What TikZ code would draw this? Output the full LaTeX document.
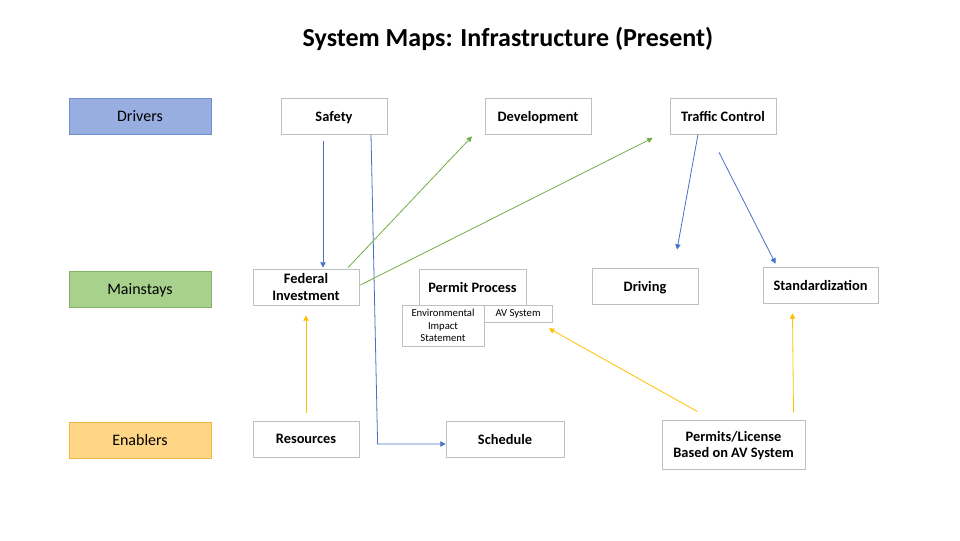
\documentclass[tikz,border=0pt]{standalone}
\usepackage{fontspec}
\setmainfont{Carlito}
\usetikzlibrary{calc,arrows.meta}
\definecolor{boxline}{HTML}{BFBFBF}
\definecolor{arrblue}{HTML}{4472C4}
\definecolor{arrgreen}{HTML}{70AD47}
\definecolor{arryellow}{HTML}{FFC000}
\definecolor{drvfill}{HTML}{98AEE0}
\definecolor{drvline}{HTML}{6F8FCF}
\definecolor{mnfill}{HTML}{A9D18E}
\definecolor{mnline}{HTML}{82B366}
\definecolor{enfill}{HTML}{FFD685}
\definecolor{enline}{HTML}{F0B840}
\tikzset{
  px/.style={x=0.75pt,y=-0.75pt},
  box/.style={draw=boxline,fill=white,line width=0.6pt,inner sep=1pt,align=center,text depth=0pt,
    font=\fontsize{10.8}{12.5}\selectfont\bfseries,minimum height=27pt,minimum width=79.5pt},
  small/.style={draw=boxline,fill=white,line width=0.6pt,inner sep=1pt,align=center,
    font=\fontsize{8}{9.6}\selectfont},
  rowlabel/.style={line width=0.6pt,minimum width=106.5pt,minimum height=27pt,text depth=0pt,
    font=\fontsize{12}{14}\selectfont},
  tip/.style={-{Triangle[length=4pt,width=4pt]}},
  bluearr/.style={tip,draw=arrblue,line width=0.6pt},
  greenarr/.style={tip,draw=arrgreen,line width=0.6pt},
  yelarr/.style={tip,draw=arryellow,line width=0.6pt}
}
\begin{document}
\begin{tikzpicture}[px]
\useasboundingbox (0,0) rectangle (960,540);
\node[font=\fontsize{19.5}{23}\selectfont\bfseries] (title) at (508,39) {System Maps: Infrastructure (Present)};

\node[rowlabel,draw=drvline,fill=drvfill] (drivers) at (140,116) {Drivers};
\node[rowlabel,draw=mnline,fill=mnfill] (mainstays) at (140,289) {Mainstays};
\node[rowlabel,draw=enline,fill=enfill] (enablers) at (140,440) {Enablers};

\node[box] (safety) at (334,116) {Safety};
\node[box] (dev) at (538,116) {Development};
\node[box] (tc) at (723,116) {Traffic Control};

\node[box] (fed) at (306,287) {Federal\\Investment};
\node[box,minimum width=80.25pt] (permit) at (472.5,287) {Permit Process};
\node[small,minimum width=61.5pt,minimum height=30.75pt] (eis) at (443,325.5) {Environmental\\Impact\\Statement};
\node[small,minimum width=51pt,minimum height=12.75pt] (av) at (518,313.5) {AV System};
\node[box] (driving) at (645,286) {Driving};
\node[box,minimum width=86.25pt] (std) at (820.5,285) {Standardization};

\node[box] (res) at (306,439) {Resources};
\node[box,minimum width=88.5pt] (sched) at (505,439) {Schedule};
\node[box,minimum width=107.25pt,minimum height=36.75pt] (perm) at (733.5,444.5) {Permits/License\\Based on AV System};

% blue arrows
\draw[bluearr] ($(safety.south)+(-11,7)$) -- ($(fed.north)+(17,-1)$);
\coordinate (bend) at ($(sched.west)+(-68,5)$);
\draw[bluearr] ($(safety.south)+(37,0)$) -- (bend) -- ($(sched.west)+(0,5)$);
\draw[bluearr] ($(tc.south)+(-25,0)$) -- ($(driving.north)+(32,-18)$);
\draw[bluearr] ($(tc.south)+(-4,18)$) -- ($(std.north)+(-45,-3)$);

% green arrows
\draw[greenarr] ($(fed.north)+(42,-1)$) -- ($(dev.south)+(-66,2)$);
\draw[greenarr] ($(fed.east)+(1,-2)$) -- ($(tc.west)+(-17,22)$);

% yellow arrows
\draw[yelarr] ($(res.north)+(0,-8)$) -- ($(fed.south)+(0,10)$);
\draw[yelarr] ($(perm.north)+(-36,-8)$) -- ($(av.south)+(31,6)$);
\draw[yelarr] ($(perm.north)+(60,-7)$) -- ($(std.south)+(-28,10)$);
\end{tikzpicture}
\end{document}
